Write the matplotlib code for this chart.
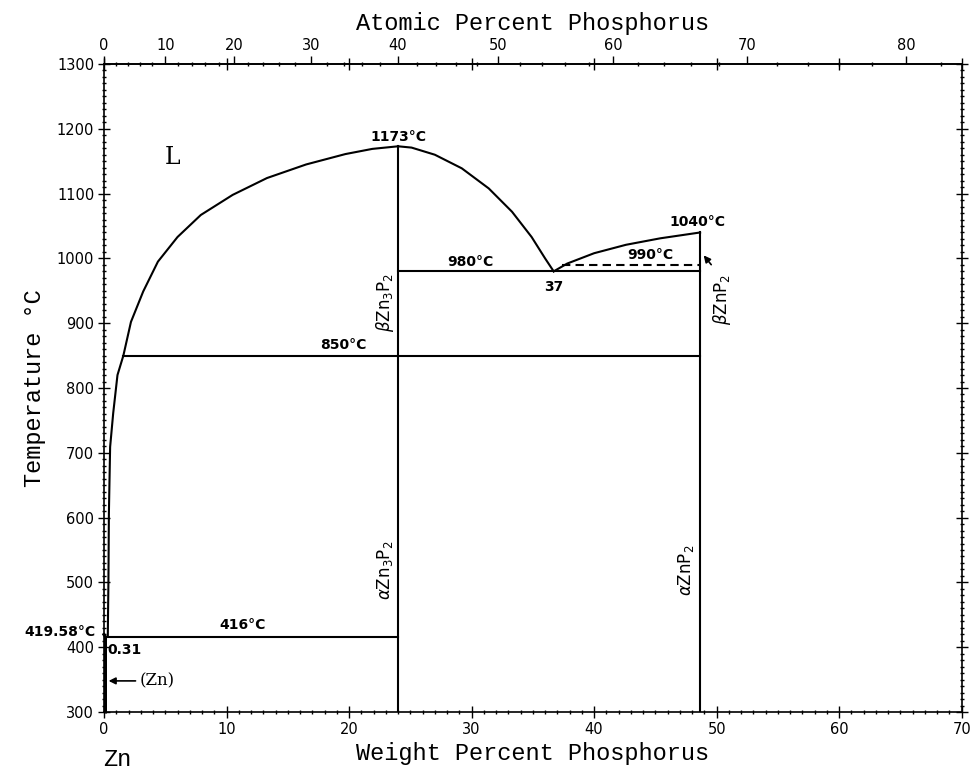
import numpy as np
import matplotlib
matplotlib.use("Agg")
import matplotlib.pyplot as plt
from matplotlib.ticker import MultipleLocator

# atomic masses for the top axis conversion
M_ZN = 65.38
M_P = 30.974

# liquidus, Zn side (wt% P, deg C)
liq_zn_w = [0.31, 0.33, 0.36, 0.40, 0.50, 0.75, 1.1, 1.58, 2.2, 3.2, 4.4, 6.0, 7.9, 10.5,
            13.3, 16.5, 19.7, 21.9, 24.0]
liq_zn_t = [416, 453, 500, 607, 709, 761, 820, 850, 902, 949, 995, 1033, 1067, 1098,
            1124, 1145, 1161, 1169, 1173]
# liquidus between Zn3P2 and the eutectic
liq_mid_w = [24.0, 25.1, 27.0, 29.2, 31.4, 33.3, 34.9, 36.0, 36.7]
liq_mid_t = [1173, 1171, 1160, 1139, 1108, 1072, 1033, 1000, 980]
# liquidus between the eutectic and ZnP2
liq_p_w = [36.7, 37.8, 40.0, 42.6, 45.4, 48.65]
liq_p_t = [980, 992, 1008, 1021, 1031, 1040]

w_zn3p2 = 24.0
w_znp2 = 48.65
t_zn3p2 = 1173
t_znp2 = 1040
w_eut = 36.7
t_eut = 980
t_trans_znp2 = 990
t_trans_zn3p2 = 850
w_liq850 = 1.58
t_eut_zn = 416
w_eut_zn = 0.31
t_melt_zn = 419.58


def wt2at(w):
    w = np.asarray(w, dtype=float)
    a = w / M_P
    b = (100 - w) / M_ZN
    return 100 * a / (a + b)


def at2wt(x):
    x = np.asarray(x, dtype=float)
    a = x * M_P
    b = (100 - x) * M_ZN
    return 100 * a / (a + b)


fig = plt.figure(figsize=(9.74, 7.72), dpi=100)
ax = fig.add_axes([104 / 974, 60 / 772, (961.7 - 104) / 974, (712 - 64) / 772])

lw = 1.5
k = 'black'
ax.plot(liq_zn_w, liq_zn_t, color=k, lw=lw)
ax.plot(liq_mid_w, liq_mid_t, color=k, lw=lw)
ax.plot(liq_p_w, liq_p_t, color=k, lw=lw)
# compounds
ax.plot([w_zn3p2, w_zn3p2], [300, t_zn3p2], color=k, lw=lw)
ax.plot([w_znp2, w_znp2], [300, t_znp2], color=k, lw=lw)
# invariant lines
ax.plot([w_zn3p2, w_znp2], [t_eut, t_eut], color=k, lw=lw)
ax.plot([37.4, w_znp2], [t_trans_znp2, t_trans_znp2], color=k, lw=lw, ls=(0, (4, 2.5)))
ax.plot([w_liq850, w_znp2], [t_trans_zn3p2, t_trans_zn3p2], color=k, lw=lw)
ax.plot([0, w_zn3p2], [t_eut_zn, t_eut_zn], color=k, lw=lw)
# (Zn) terminal solid solution
ax.plot([0.12, 0.12, 0], [300, t_eut_zn, t_melt_zn], color=k, lw=2.2, clip_on=False)

ax.set_xlim(0, 70)
ax.set_ylim(300, 1300)

for s in ax.spines.values():
    s.set_linewidth(1.2)

ax.xaxis.set_major_locator(MultipleLocator(10))
ax.xaxis.set_minor_locator(MultipleLocator(1))
ax.yaxis.set_major_locator(MultipleLocator(100))
ax.yaxis.set_minor_locator(MultipleLocator(10))
ax.tick_params(which='major', direction='inout', length=8, width=1, labelsize=10.5,
               top=True, right=True, pad=3)
ax.tick_params(which='minor', direction='inout', length=3, width=1, top=False, right=True)
ax.tick_params(axis='x', which='major', top=True, labeltop=False)

sec = ax.secondary_xaxis('top', functions=(wt2at, at2wt))
sec.set_xticks(np.arange(0, 81, 10))
sec.set_xticks(np.arange(0, 84, 2), minor=True)
sec.tick_params(which='major', direction='out', length=6, width=1, labelsize=10.5, pad=2)
sec.tick_params(which='minor', direction='inout', length=3, width=1)
sec.spines['top'].set_linewidth(1.2)

mono = 'Liberation Mono'
ax.set_xlabel('Weight Percent Phosphorus', family=mono, fontsize=17, labelpad=4)
ax.set_ylabel('Temperature °C', family=mono, fontsize=17, labelpad=8)
sec.set_xlabel('Atomic Percent Phosphorus', family=mono, fontsize=17, labelpad=6)
fig.text(117 / 974, 1 - 760 / 772, 'Zn', family=mono, fontsize=17, ha='center', va='center')

lab = dict(fontsize=10, fontweight='bold', ha='center', va='center', family='DejaVu Sans')
ax.text(24.0, 1187, '1173°C', **lab)
ax.text(29.9, 994, '980°C', **lab)
ax.text(36.7, 956, '37', **lab)
ax.text(44.6, 1005, '990°C', **lab)
ax.text(48.4, 1056, '1040°C', **lab)
ax.text(19.5, 866, '850°C', **lab)
ax.text(11.3, 434, '416°C', **lab)
ax.text(-0.7, 423, '419.58°C', clip_on=False, **dict(lab, ha='right'))
ax.text(0.25, 396, '0.31', **dict(lab, ha='left'))

phase = dict(fontsize=12, ha='center', va='center', rotation=90, family='DejaVu Sans')
ax.text(22.9, 932, r'$\beta$Zn$_3$P$_2$', **phase)
ax.text(22.9, 519, r'$\alpha$Zn$_3$P$_2$', **phase)
ax.text(47.5, 519, r'$\alpha$ZnP$_2$', **phase)
ax.text(50.4, 936, r'$\beta$ZnP$_2$', **phase)
ax.annotate('', xy=(48.8, 1008), xytext=(49.7, 987),
            arrowprops=dict(arrowstyle='-|>', color=k, lw=1.2, mutation_scale=10))

ax.text(5.6, 1155, 'L', family='DejaVu Serif', fontsize=17, ha='center', va='center')
ax.text(2.9, 348, '(Zn)', family='DejaVu Serif', fontsize=12, ha='left', va='center')
ax.annotate('', xy=(0.15, 348), xytext=(2.8, 348),
            arrowprops=dict(arrowstyle='-|>', color=k, lw=1.2, mutation_scale=10))

fig.savefig('out.png', dpi=100)
